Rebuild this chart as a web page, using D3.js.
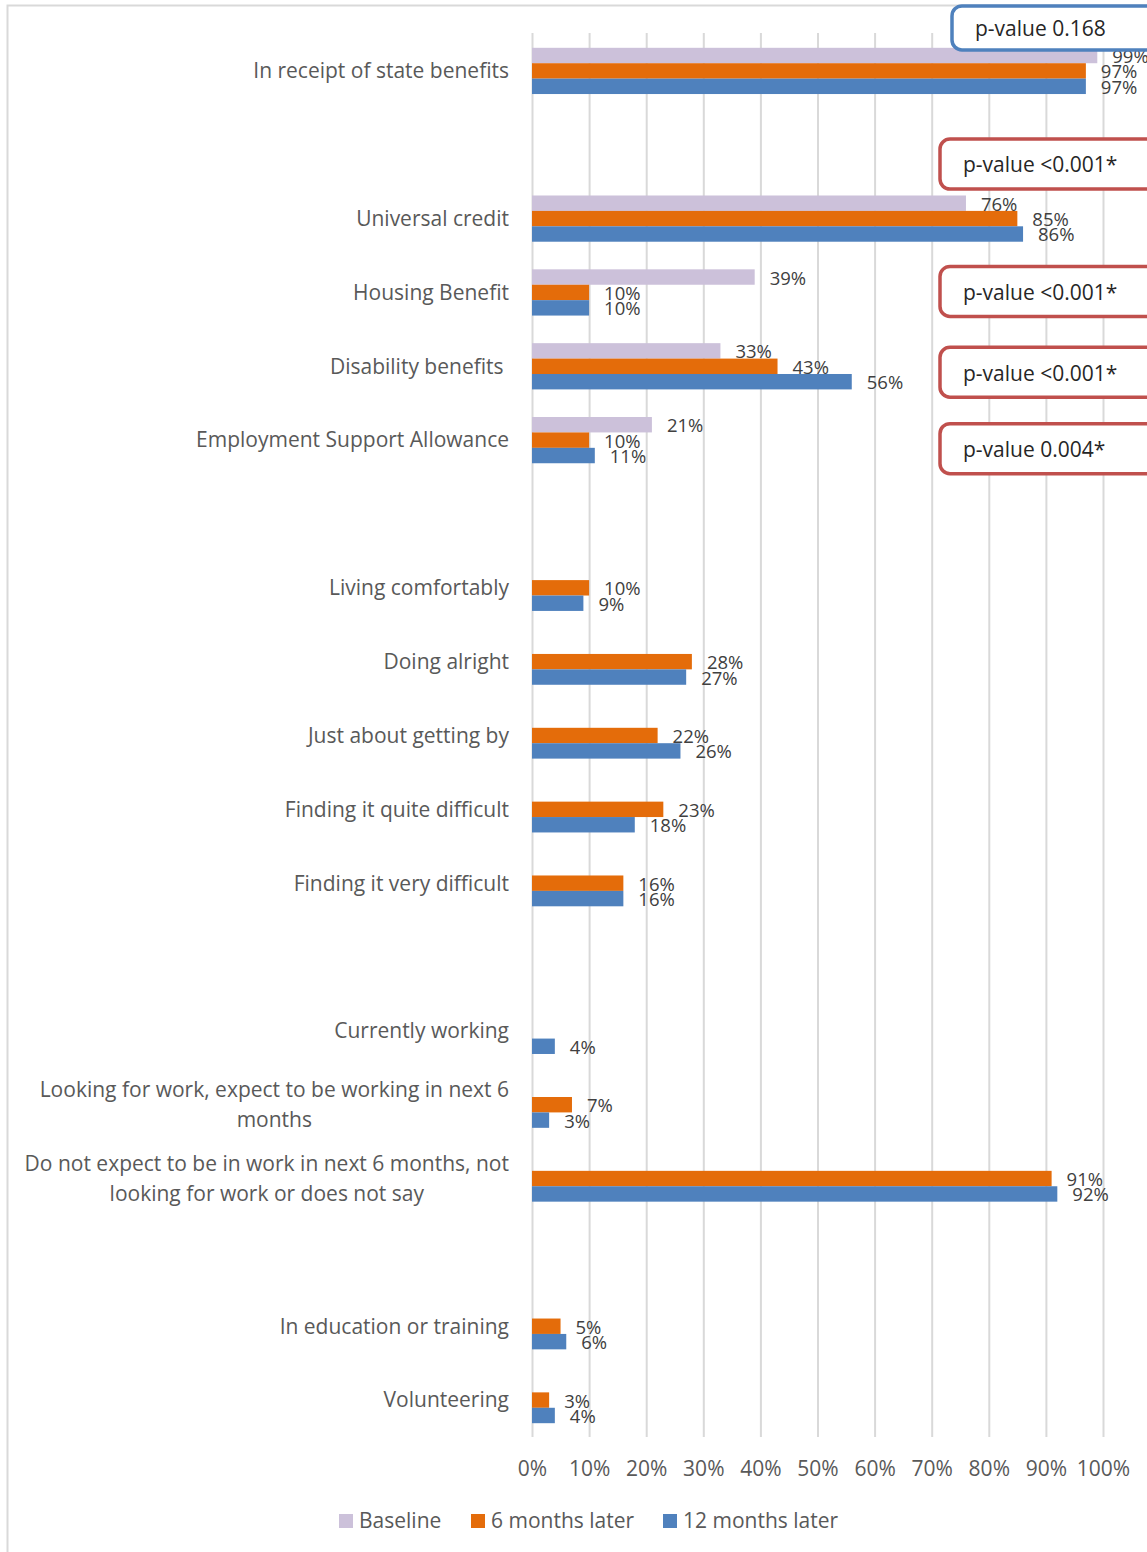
<!DOCTYPE html>
<html>
<head>
<meta charset="utf-8">
<script src="https://cdn.jsdelivr.net/npm/d3@7"></script>
<style>
  html, body { margin: 0; padding: 0; background: #fff; }
  svg { display: block; }
  text { font-family: "Open Sans", "Noto Sans", sans-serif; }
</style>
</head>
<body>
<svg id="chart" width="1147" height="1552"></svg>
<script>
// Category rows, top to bottom; empty strings are spacer rows between groups.
const categories = [
  "In receipt of state benefits",
  "",
  "Universal credit",
  "Housing Benefit",
  "Disability benefits ",
  "Employment Support Allowance",
  "",
  "Living comfortably",
  "Doing alright",
  "Just about getting by",
  "Finding it quite difficult",
  "Finding it very difficult",
  "",
  "Currently working",
  "Looking for work, expect to be working in next 6\nmonths",
  "Do not expect to be in work in next 6 months, not\nlooking for work or does not say",
  "",
  "In education or training",
  "Volunteering"
];

const seriesNames = ["Baseline", "6 months later", "12 months later"];

// Percentages per row (null = not asked / no bar)
const baseline = [99, null, 76, 39, 33, 21, null, null, null, null, null, null, null, null, null, null, null, null, null];
const sixMonths = [97, null, 85, 10, 43, 10, null, 10, 28, 22, 23, 16, null, null, 7, 91, null, 5, 3];
const twelveMonths = [97, null, 86, 10, 56, 11, null, 9, 27, 26, 18, 16, null, 4, 3, 92, null, 6, 4];

const xTicks = [0, 10, 20, 30, 40, 50, 60, 70, 80, 90, 100];

// Significance notes attached to rows
const pNotes = [
  { row: 0, text: "p-value 0.168", significant: false },
  { row: 2, text: "p-value <0.001*", significant: true },
  { row: 3, text: "p-value <0.001*", significant: true },
  { row: 4, text: "p-value <0.001*", significant: true },
  { row: 5, text: "p-value 0.004*", significant: true }
];

// ---- layout ----
const W = 1147, H = 1552;
const plot = { left: 532, right: 1103, top: 34, bottom: 1437 };
const colors = { "Baseline": "#CCC1DA", "6 months later": "#E46C0A", "12 months later": "#4F81BD" };
const textGrey = "#595959";
const labelGrey = "#404040";
const gridGrey = "#D9D9D9";
const fontSize = 21;

const svg = d3.select("#chart");

// chart-area frame (light grey), partly outside the visible page
svg.append("rect")
  .attr("x", 7.5).attr("y", 5.5)
  .attr("width", W + 20).attr("height", H + 20)
  .attr("fill", "none").attr("stroke", gridGrey).attr("stroke-width", 2);

const x = d3.scaleLinear().domain([0, 100]).range([plot.left, plot.right]);
const y = d3.scaleBand().domain(d3.range(categories.length)).range([plot.top, plot.bottom]).padding(0);
const groupH = y.bandwidth() * 0.626;
const ySub = d3.scaleBand().domain(seriesNames).range([-groupH / 2, groupH / 2]).padding(0);

// vertical gridlines and percentage ticks
const xAxis = d3.axisBottom(x).tickValues(xTicks).tickFormat(d => d + "%").tickSize(-(plot.bottom - plot.top + 1)).tickPadding(24);
const gx = svg.append("g").attr("transform", `translate(0,${plot.bottom})`).call(xAxis);
gx.select(".domain").remove();
gx.selectAll(".tick line").attr("stroke", gridGrey).attr("stroke-width", 2);
gx.selectAll(".tick text")
  .attr("fill", textGrey).attr("font-size", fontSize)
  .attr("font-family", '"Open Sans", sans-serif');

// category labels (right aligned; multi-line labels centred on themselves)
const rows = svg.append("g");
categories.forEach((name, i) => {
  if (!name) return;
  const lines = name.split("\n");
  const cy = y(i) + y.bandwidth() / 2;
  const lineGap = 29.5;
  const t = rows.append("text")
    .attr("fill", textGrey).attr("font-size", fontSize)
    .style("white-space", "pre");
  lines.forEach((ln, k) => {
    t.append("tspan").attr("y", cy + (k - (lines.length - 1) / 2) * lineGap).attr("dy", "0.35em").text(ln);
  });
  if (lines.length === 1) {
    t.attr("text-anchor", "end").selectAll("tspan").attr("x", 509);
  } else {
    // centre each line within the widest line, which is right-aligned to the axis gap
    const widths = t.selectAll("tspan").nodes().map(n => n.getComputedTextLength());
    const maxW = d3.max(widths);
    t.attr("text-anchor", "middle").selectAll("tspan").attr("x", 509 - maxW / 2);
  }
});

// bars with value labels
const seriesData = [baseline, sixMonths, twelveMonths];
const bars = svg.append("g");
const labels = svg.append("g");
seriesNames.forEach((s, si) => {
  const vals = seriesData[si];
  const pts = vals.map((v, i) => ({ v, i })).filter(d => d.v != null);
  bars.selectAll(null).data(pts).enter().append("rect")
    .attr("x", x(0))
    .attr("y", d => y(d.i) + y.bandwidth() / 2 + ySub(s))
    .attr("width", d => x(d.v) - x(0))
    .attr("height", ySub.bandwidth())
    .attr("fill", colors[s]);
  labels.selectAll(null).data(pts).enter().append("text")
    .attr("x", d => x(d.v) + 15)
    .attr("y", d => y(d.i) + y.bandwidth() / 2 + ySub(s) + ySub.bandwidth() / 2 + 1)
    .attr("dy", "0.35em")
    .attr("font-size", 18.5)
    .attr("fill", labelGrey)
    .text(d => d.v + "%");
});

// p-value callout boxes
const noteOffset = { 0: -43, 2: -54.5, 3: -1, 4: 6, 5: 8.5 };
const notes = svg.append("g");
pNotes.forEach(n => {
  const cy = y(n.row) + y.bandwidth() / 2 + noteOffset[n.row];
  const left = n.significant ? 940 : 952;
  const h = n.significant ? 50 : 44;
  notes.append("rect")
    .attr("x", left).attr("y", cy - h / 2)
    .attr("width", 260).attr("height", h)
    .attr("rx", 10).attr("ry", 10)
    .attr("fill", "#fff")
    .attr("stroke", n.significant ? "#C0504D" : "#4F81BD")
    .attr("stroke-width", 3.5);
  notes.append("text")
    .attr("x", left + 23).attr("y", cy + 1).attr("dy", "0.35em")
    .attr("font-size", fontSize).attr("fill", "#262626")
    .text(n.text);
});

// legend
const legend = svg.append("g").attr("transform", "translate(0,1521)");
const legendX = [339, 471, 663];
seriesNames.forEach((s, i) => {
  legend.append("rect").attr("x", legendX[i]).attr("y", -7).attr("width", 14).attr("height", 14).attr("fill", colors[s]);
  legend.append("text").attr("x", legendX[i] + 20).attr("y", 0).attr("dy", "0.35em")
    .attr("font-size", fontSize).attr("fill", textGrey).text(s);
});
</script>
</body>
</html>
